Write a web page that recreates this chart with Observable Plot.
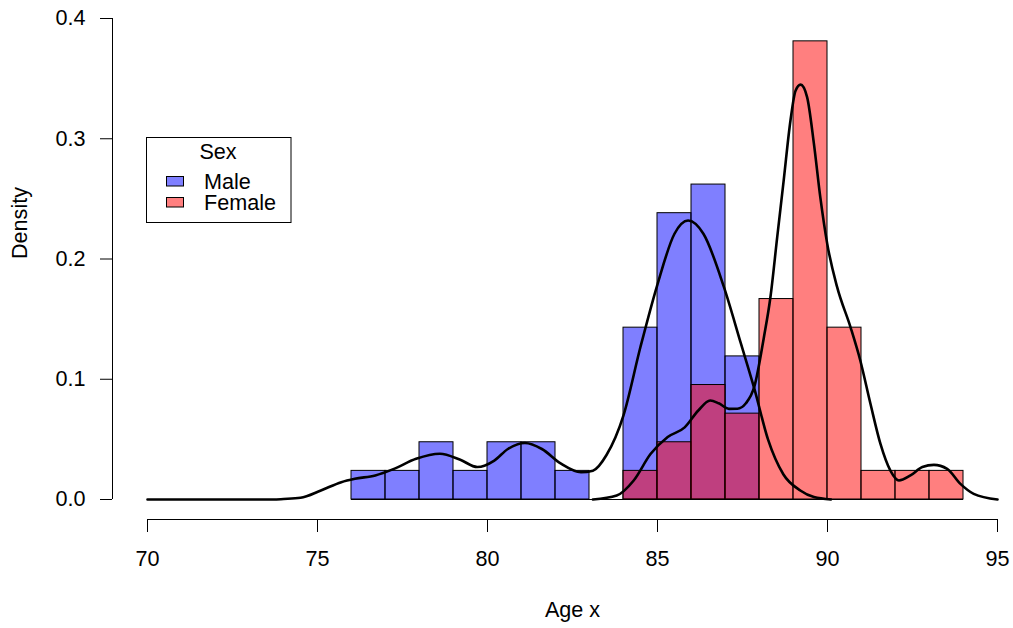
<!DOCTYPE html>
<html>
<head>
<meta charset="utf-8">
<script src="https://cdn.jsdelivr.net/npm/d3@7"></script>
<script src="https://cdn.jsdelivr.net/npm/@observablehq/plot@0.6"></script>
<style>
  html, body { margin: 0; padding: 0; background: white; }
  #chart { width: 1013px; height: 628px; }
</style>
</head>
<body>
<div id="chart"></div>
<script>
// ---- Data ----
const maleBinStarts = [76, 77, 78, 79, 80, 81, 82, 83, 84, 85, 86, 87];
const maleHistDensity = [0.0238, 0.0238, 0.0476, 0.0238, 0.0476, 0.0476, 0.0238, 0, 0.1429, 0.2381, 0.2619, 0.1190];
const femaleBinStarts = [84, 85, 86, 87, 88, 89, 90, 91, 92, 93];
const femaleHistDensity = [0.0238, 0.0476, 0.0952, 0.0714, 0.1667, 0.3810, 0.1429, 0.0238, 0.0238, 0.0238];
const binWidth = 1;

const maleDensAge = [70, 72, 73.7, 74.0, 74.5, 75.1, 75.7, 76.1, 76.7, 77.25, 77.9, 78.6, 79.2, 79.7, 80.2, 80.6, 81.1, 81.6, 82.15, 82.75, 83.1, 83.5, 84.0, 84.5, 85.0, 85.5, 85.9, 86.35, 86.95, 87.45, 87.85, 88.25, 88.7, 89.2, 89.6, 90.1];
const maleDens = [0, 0, 0, 0.0004, 0.0014, 0.0075, 0.0144, 0.0172, 0.020, 0.0255, 0.0338, 0.038, 0.033, 0.027, 0.0324, 0.042, 0.047, 0.042, 0.030, 0.0227, 0.024, 0.037, 0.070, 0.127, 0.179, 0.221, 0.232, 0.221, 0.177, 0.130, 0.092, 0.050, 0.021, 0.0075, 0.002, 0];

const femaleDensAge = [83.1, 83.8, 84.3, 84.8, 85.3, 85.8, 86.2, 86.55, 86.8, 87.1, 87.35, 87.6, 87.85, 88.13, 88.32, 88.52, 88.71, 88.91, 89.06, 89.21, 89.4, 89.6, 89.79, 89.99, 90.28, 90.68, 90.97, 91.26, 91.56, 91.85, 92.1, 92.44, 92.79, 93.13, 93.52, 93.91, 94.3, 95.0];
const femaleDens = [0, 0.0033, 0.0158, 0.038, 0.052, 0.060, 0.074, 0.0823, 0.080, 0.0754, 0.0755, 0.080, 0.094, 0.135, 0.168, 0.218, 0.265, 0.315, 0.340, 0.345, 0.3346, 0.296, 0.251, 0.213, 0.177, 0.143, 0.115, 0.080, 0.046, 0.024, 0.0158, 0.020, 0.027, 0.0288, 0.0255, 0.013, 0.0047, 0];

const xTicks = [70, 75, 80, 85, 90, 95];
const yTicks = [0, 0.1, 0.2, 0.3, 0.4];
const legendTitle = "Sex";
const legendLabels = ["Male", "Female"];
const maleFill = "rgba(0,0,255,0.5)";
const femaleFill = "rgba(255,0,0,0.5)";

// ---- Build tables ----
const maleBars = maleBinStarts.map((s, i) => ({x1: s, x2: s + binWidth, y: maleHistDensity[i]}));
const femaleBars = femaleBinStarts.map((s, i) => ({x1: s, x2: s + binWidth, y: femaleHistDensity[i]}));
const maleCurve = maleDensAge.map((a, i) => ({x: a, y: maleDens[i]}));
const femaleCurve = femaleDensAge.map((a, i) => ({x: a, y: femaleDens[i]}));
const histLo = maleBinStarts[0];
const histHi = femaleBinStarts[femaleBinStarts.length - 1] + binWidth;

const font = "'Liberation Sans', Arial, Helvetica, sans-serif";
const fs = "21.6px";

const chart = Plot.plot({
  width: 1013,
  height: 628,
  marginLeft: 112,
  marginRight: 16,
  marginTop: 18,
  marginBottom: 109,
  style: {fontFamily: font, fontSize: fs, color: "black", background: "white", overflow: "visible"},
  x: {domain: [70, 95], insetLeft: 35},
  y: {domain: [0, 0.4], insetBottom: 20},
  marks: [
    Plot.rectY(maleBars, {x1: "x1", x2: "x2", y: "y", fill: maleFill, stroke: "black", strokeWidth: 1}),
    Plot.rectY(femaleBars, {x1: "x1", x2: "x2", y: "y", fill: femaleFill, stroke: "black", strokeWidth: 1}),
    // bottom edges of the histogram bins (including empty ones)
    Plot.ruleY([0], {x1: histLo, x2: histHi, stroke: "black", strokeWidth: 1}),
    Plot.line(maleCurve, {x: "x", y: "y", stroke: "black", strokeWidth: 2.6, curve: "monotone-x"}),
    Plot.line(femaleCurve, {x: "x", y: "y", stroke: "black", strokeWidth: 2.6, curve: "monotone-x"}),
    // axis lines (R style: only from first to last tick)
    Plot.ruleY([0], {x1: xTicks[0], x2: xTicks[xTicks.length - 1], dy: 20, stroke: "black", strokeWidth: 1}),
    Plot.ruleX([xTicks[0]], {y1: yTicks[0], y2: yTicks[yTicks.length - 1], dx: -35, stroke: "black", strokeWidth: 1}),
    Plot.axisX({ticks: xTicks, tickSize: 13, tickPadding: 18, tickFormat: d => String(d), label: null, stroke: "black"}),
    Plot.axisY({ticks: yTicks, tickSize: 12, tickPadding: 15, tickFormat: d3.format(".1f"), label: null, stroke: "black"}),
    Plot.text(["Density"], {frameAnchor: "left", dx: -92, dy: -10, rotate: -90, fontSize: fs, fill: "black"}),
    Plot.text(["Age x"], {frameAnchor: "bottom", dx: 17.5, dy: 97, fontSize: fs, fill: "black"})
  ]
});

// ---- Legend (R style box) ----
const svg = d3.select(chart);
const g = svg.append("g").attr("font-family", font).attr("font-size", fs).attr("fill", "black").attr("text-anchor", "start");
g.append("rect").attr("x", 146.5).attr("y", 137.5).attr("width", 144.5).attr("height", 85)
  .attr("fill", "white").attr("stroke", "black").attr("stroke-width", 1);
g.append("text").attr("x", 218).attr("y", 159).attr("text-anchor", "middle").text(legendTitle);
const fills = [maleFill, femaleFill];
const swY = [176, 197];
const baseY = [188.5, 210];
legendLabels.forEach((lab, i) => {
  g.append("rect").attr("x", 166.5).attr("y", swY[i] + 0.5).attr("width", 17).attr("height", 9.5)
    .attr("fill", fills[i]).attr("stroke", "black").attr("stroke-width", 1);
  g.append("text").attr("x", 204).attr("y", baseY[i]).attr("text-anchor", "start").text(lab);
});

document.getElementById("chart").appendChild(chart);
</script>
</body>
</html>
